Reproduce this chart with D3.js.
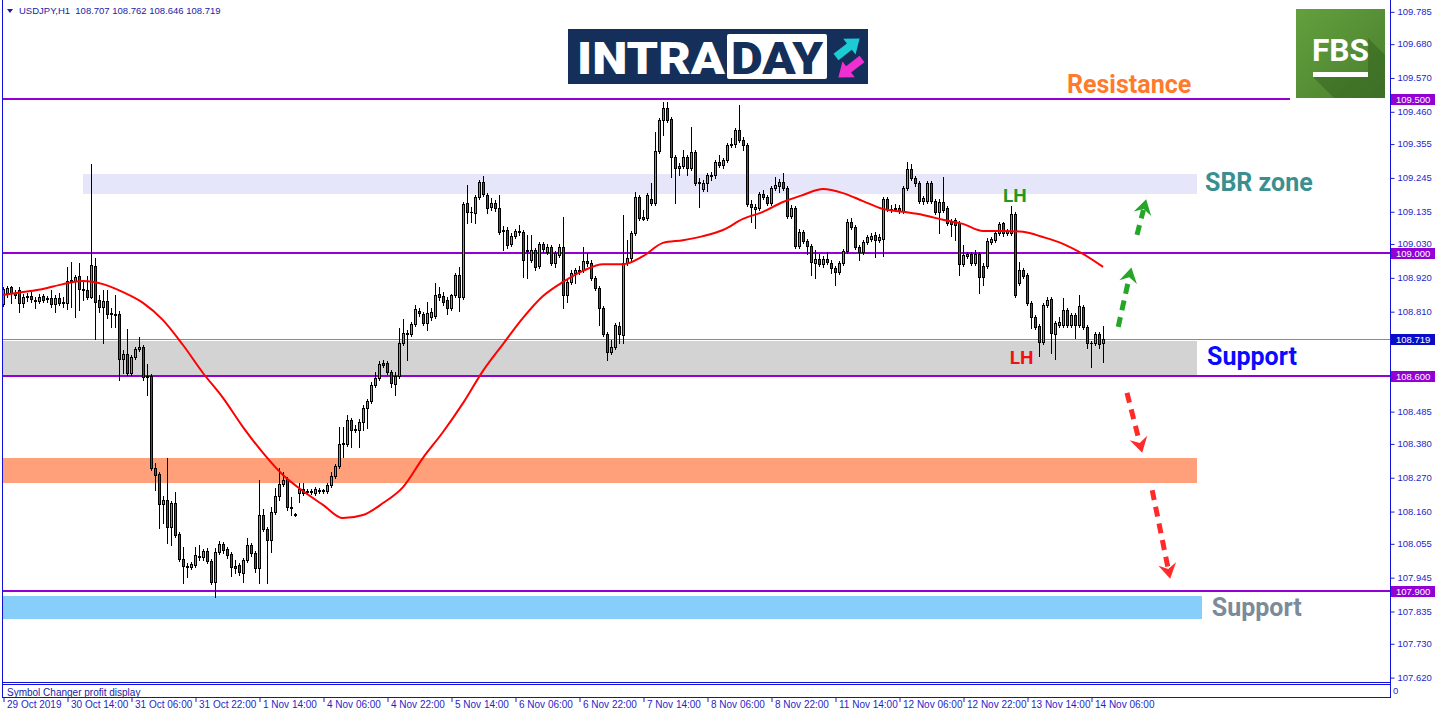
<!DOCTYPE html>
<html>
<head>
<meta charset="utf-8">
<script src="https://cdn.jsdelivr.net/npm/d3@7"></script>
<style>
  html, body { margin: 0; padding: 0; background: #fff; }
  svg { display: block; }
</style>
</head>
<body>
<svg id="chart" width="1436" height="716"></svg>
<script>
// USDJPY H1, 29 Oct - 14 Nov 2019, one row per bar: [open, high, low, close]
var ohlc = [
  [108.833,108.889,108.826,108.882],[108.869,108.892,108.856,108.885],[108.889,108.892,108.836,108.869],
  [108.869,108.879,108.853,108.862],[108.879,108.889,108.807,108.836],[108.836,108.866,108.823,108.856],
  [108.856,108.869,108.843,108.859],[108.859,108.872,108.840,108.849],[108.846,108.856,108.820,108.843],
  [108.843,108.866,108.836,108.856],[108.859,108.866,108.840,108.846],[108.849,108.859,108.840,108.853],
  [108.853,108.879,108.823,108.833],[108.833,108.862,108.807,108.853],[108.853,108.869,108.830,108.836],
  [108.840,108.856,108.823,108.836],[108.836,108.954,108.817,108.908],[108.911,108.970,108.823,108.908],
  [108.908,108.928,108.791,108.921],[108.924,108.967,108.814,108.882],[108.882,108.905,108.846,108.879],
  [108.879,108.924,108.849,108.856],[108.856,109.289,108.853,108.961],[108.957,108.983,108.720,108.840],
  [108.846,108.862,108.807,108.823],[108.823,108.879,108.707,108.843],[108.843,108.879,108.788,108.801],
  [108.804,108.820,108.758,108.801],[108.801,108.862,108.758,108.798],[108.801,108.811,108.586,108.655],
  [108.655,108.684,108.610,108.671],[108.671,108.752,108.603,108.610],[108.610,108.668,108.603,108.661],
  [108.661,108.694,108.655,108.687],[108.687,108.726,108.681,108.694],[108.694,108.700,108.586,108.596],
  [108.599,108.638,108.538,108.597],[108.599,108.606,108.294,108.300],[108.300,108.316,108.228,108.277],
  [108.281,108.287,108.105,108.183],[108.183,108.209,108.121,108.196],[108.196,108.333,108.056,108.108],
  [108.108,108.193,108.049,108.186],[108.186,108.222,108.076,108.082],[108.085,108.092,107.998,108.004],
  [108.004,108.043,107.926,107.981],[107.981,107.991,107.945,107.978],[107.978,107.994,107.971,107.988],
  [107.984,108.043,107.978,108.017],[108.014,108.049,108.001,108.012],[108.010,108.036,108.001,108.030],
  [108.030,108.040,107.991,107.998],[107.998,108.004,107.923,107.929],[107.929,108.040,107.880,108.027],
  [108.027,108.062,108.020,108.053],[108.053,108.059,108.023,108.033],[108.036,108.043,108.007,108.017],
  [108.020,108.027,107.949,107.978],[107.981,108.001,107.958,107.975],[107.984,107.991,107.952,107.962],
  [107.958,108.007,107.929,108.001],[108.001,108.072,107.994,108.049],[108.049,108.056,108.014,108.023],
  [108.023,108.030,107.962,107.975],[107.975,108.261,107.926,108.147],[108.147,108.167,108.095,108.102],
  [108.102,108.108,107.926,108.066],[108.066,108.173,108.027,108.157],[108.157,108.235,108.150,108.209],
  [108.209,108.300,108.196,108.248],[108.248,108.287,108.241,108.261],[108.264,108.271,108.163,108.173],
  [108.173,108.206,108.147,108.170],[108.150,108.154,108.144,108.147],[108.219,108.251,108.190,108.232],
  [108.232,108.251,108.212,108.219],[108.222,108.232,108.215,108.225],[108.225,108.232,108.215,108.222],
  [108.219,108.238,108.212,108.232],[108.228,108.235,108.219,108.226],[108.228,108.232,108.219,108.225],
  [108.225,108.251,108.219,108.245],[108.245,108.287,108.238,108.274],[108.274,108.313,108.268,108.307],
  [108.307,108.433,108.300,108.378],[108.378,108.433,108.336,108.381],[108.378,108.472,108.372,108.456],
  [108.456,108.463,108.368,108.424],[108.424,108.440,108.417,108.427],[108.424,108.459,108.368,108.450],
  [108.450,108.505,108.424,108.495],[108.495,108.524,108.430,108.518],[108.518,108.580,108.511,108.570],
  [108.570,108.612,108.564,108.593],[108.593,108.648,108.586,108.638],[108.642,108.651,108.629,108.636],
  [108.642,108.648,108.606,108.612],[108.612,108.619,108.564,108.577],[108.573,108.612,108.538,108.599],
  [108.599,108.755,108.593,108.707],[108.707,108.785,108.700,108.739],[108.739,108.749,108.651,108.737],
  [108.736,108.775,108.729,108.768],[108.768,108.830,108.762,108.817],[108.811,108.820,108.794,108.804],
  [108.801,108.807,108.765,108.771],[108.771,108.840,108.749,108.804],[108.791,108.820,108.781,108.807],
  [108.794,108.902,108.788,108.862],[108.866,108.889,108.846,108.856],[108.859,108.872,108.830,108.840],
  [108.846,108.856,108.801,108.820],[108.820,108.866,108.814,108.862],[108.862,108.934,108.856,108.928],
  [108.928,108.954,108.811,108.856],[108.856,109.165,108.849,109.159],[109.162,109.221,109.097,109.133],
  [109.133,109.149,109.100,109.131],[109.129,109.188,109.097,109.182],[109.182,109.237,109.175,109.230],
  [109.230,109.250,109.185,109.191],[109.188,109.195,109.129,109.146],[109.149,109.178,109.139,109.162],
  [109.162,109.172,109.136,109.146],[109.146,109.188,109.061,109.068],[109.071,109.087,109.009,109.074],
  [109.074,109.084,109.016,109.025],[109.029,109.064,109.022,109.055],[109.055,109.077,109.048,109.071],
  [109.071,109.090,109.058,109.068],[109.068,109.074,108.921,108.977],[109.006,109.058,108.918,109.009],
  [108.977,109.058,108.970,109.009],[109.009,109.016,108.944,108.954],[108.957,109.035,108.950,109.029],
  [109.029,109.035,109.003,109.012],[109.003,109.029,108.996,109.019],[109.019,109.025,108.961,108.967],
  [108.967,109.006,108.954,109.000],[108.993,109.029,108.987,109.019],[109.019,109.116,108.820,108.862],
  [108.862,108.911,108.840,108.905],[108.905,108.944,108.898,108.934],[108.934,108.950,108.902,108.944],
  [108.944,108.957,108.931,108.941],[108.944,109.019,108.937,108.974],[108.974,109.000,108.957,108.967],
  [108.967,108.977,108.911,108.918],[108.918,108.924,108.879,108.885],[108.885,108.892,108.765,108.820],
  [108.820,108.827,108.729,108.736],[108.736,108.742,108.651,108.677],[108.677,108.716,108.671,108.694],
  [108.694,108.772,108.687,108.765],[108.762,108.775,108.707,108.736],[108.733,109.123,108.707,108.967],
  [108.967,109.042,108.961,108.983],[108.983,109.071,108.977,109.064],[109.064,109.198,109.058,109.182],
  [109.182,109.188,109.107,109.113],[109.116,109.139,109.107,109.110],[109.113,109.195,109.107,109.188],
  [109.175,109.227,109.155,109.162],[109.162,109.393,109.155,109.331],[109.331,109.438,109.324,109.432],
  [109.432,109.490,109.383,109.471],[109.471,109.490,109.425,109.432],[109.435,109.441,109.246,109.311],
  [109.311,109.318,109.162,109.276],[109.276,109.292,109.253,109.282],[109.282,109.334,109.276,109.311],
  [109.311,109.318,109.253,109.276],[109.276,109.409,109.269,109.328],[109.328,109.334,109.220,109.227],
  [109.230,109.243,109.149,109.228],[109.207,109.237,109.201,109.227],[109.227,109.259,109.201,109.253],
  [109.253,109.263,109.237,109.251],[109.253,109.302,109.243,109.295],[109.295,109.318,109.279,109.286],
  [109.286,109.308,109.276,109.302],[109.302,109.357,109.295,109.350],[109.350,109.373,109.344,109.354],
  [109.354,109.406,109.344,109.399],[109.399,109.481,109.360,109.367],[109.367,109.376,109.334,109.350],
  [109.350,109.357,109.152,109.159],[109.159,109.172,109.100,109.149],[109.143,109.159,109.081,109.149],
  [109.146,109.198,109.139,109.191],[109.191,109.204,109.175,109.182],[109.182,109.188,109.155,109.162],
  [109.162,109.217,109.155,109.211],[109.211,109.246,109.204,109.220],[109.217,109.240,109.198,109.230],
  [109.230,109.259,109.204,109.211],[109.211,109.217,109.113,109.120],[109.120,109.155,109.113,109.146],
  [109.146,109.152,109.016,109.022],[109.022,109.077,109.016,109.068],[109.068,109.074,109.032,109.039],
  [109.039,109.045,108.996,109.022],[109.022,109.029,108.928,108.970],[108.967,109.009,108.918,108.980],
  [108.980,108.996,108.957,108.964],[108.964,108.990,108.954,108.980],[108.980,109.003,108.964,108.970],
  [108.967,108.977,108.934,108.950],[108.950,108.957,108.895,108.937],[108.937,108.974,108.931,108.967],
  [108.967,109.012,108.961,109.006],[109.006,109.110,109.000,109.100],[109.100,109.113,109.077,109.084],
  [109.084,109.090,109.012,109.019],[109.019,109.025,108.977,109.003],[109.003,109.042,108.996,109.035],
  [109.035,109.058,109.029,109.051],[109.045,109.064,109.039,109.055],[109.058,109.068,108.987,109.042],
  [109.042,109.061,109.035,109.051],[109.045,109.182,108.990,109.175],[109.175,109.182,109.136,109.143],
  [109.143,109.155,109.133,109.141],[109.143,109.159,109.136,109.146],[109.146,109.155,109.129,109.136],
  [109.136,109.217,109.129,109.211],[109.211,109.295,109.204,109.272],[109.272,109.289,109.237,109.243],
  [109.243,109.250,109.217,109.227],[109.227,109.233,109.162,109.168],[109.168,109.185,109.159,109.178],
  [109.168,109.233,109.162,109.227],[109.227,109.233,109.162,109.168],[109.168,109.175,109.126,109.133],
  [109.133,109.175,109.064,109.165],[109.165,109.246,109.133,109.139],[109.146,109.152,109.090,109.097],
  [109.103,109.110,109.055,109.094],[109.107,109.113,109.042,109.090],[109.097,109.103,108.928,108.964],
  [108.964,109.025,108.957,108.993],[108.990,109.003,108.983,108.996],[108.996,109.003,108.961,108.967],
  [108.967,109.009,108.961,108.996],[108.996,109.003,108.869,108.921],[108.957,108.967,108.895,108.921],
  [108.957,109.048,108.950,109.039],[109.035,109.051,109.029,109.045],[109.042,109.071,109.035,109.064],
  [109.064,109.100,109.058,109.094],[109.097,109.100,109.055,109.064],[109.064,109.077,109.058,109.071],
  [109.064,109.152,109.058,109.126],[109.126,109.133,108.856,108.862],[108.902,108.970,108.895,108.944],
  [108.944,108.950,108.918,108.924],[108.928,108.934,108.830,108.836],[108.836,108.843,108.755,108.791],
  [108.791,108.798,108.752,108.758],[108.762,108.768,108.664,108.710],[108.710,108.836,108.703,108.830],
  [108.830,108.856,108.823,108.846],[108.849,108.856,108.674,108.739],[108.736,108.778,108.655,108.771],
  [108.765,108.791,108.758,108.775],[108.765,108.853,108.758,108.814],[108.814,108.820,108.758,108.765],
  [108.765,108.804,108.758,108.798],[108.798,108.804,108.723,108.765],[108.765,108.862,108.758,108.827],
  [108.823,108.830,108.752,108.758],[108.758,108.765,108.690,108.707],[108.707,108.713,108.629,108.705],
  [108.707,108.742,108.700,108.736],[108.736,108.742,108.690,108.703],[108.707,108.762,108.646,108.719]
]

// 50-period moving average, read every 5 bars
var maStep = 5
var maValues = [
  108.863, 108.872, 108.882, 108.898, 108.908, 108.898, 108.872, 108.837, 108.781, 108.700,
  108.609, 108.528, 108.433, 108.349, 108.277, 108.225, 108.180, 108.137, 108.147, 108.186,
  108.238, 108.333, 108.417, 108.511, 108.616, 108.703, 108.788, 108.859, 108.905, 108.941,
  108.963, 108.963, 108.989, 109.032, 109.041, 109.054, 109.074, 109.110, 109.133, 109.165,
  109.188, 109.207, 109.194, 109.168, 109.142, 109.133, 109.123, 109.107, 109.094, 109.071,
  109.071, 109.068, 109.051, 109.029, 108.996, 108.954
]

var priceTicks = [109.785, 109.680, 109.570, 109.460, 109.355, 109.245, 109.135, 109.030, 108.920,
  108.810, 108.705, 108.595, 108.485, 108.380, 108.270, 108.160, 108.055, 107.945, 107.835, 107.730, 107.620]
var levels = [109.500, 109.000, 108.600, 107.900]
var lastPrice = 108.719

var timeLabels = ['29 Oct 2019', '30 Oct 14:00', '31 Oct 06:00', '31 Oct 22:00', '1 Nov 14:00',
  '4 Nov 06:00', '4 Nov 22:00', '5 Nov 14:00', '6 Nov 06:00', '6 Nov 22:00', '7 Nov 14:00',
  '8 Nov 06:00', '8 Nov 22:00', '11 Nov 14:00', '12 Nov 06:00', '12 Nov 22:00', '13 Nov 14:00', '14 Nov 06:00']
var timeStep = 16

// zones in bar index / price units
var zones = [
  { from: 20, to: 298.5, lo: 109.192, hi: 109.256, color: '#e6e6fa' },
  { from: -1, to: 298.5, lo: 108.600, hi: 108.713, color: '#d3d3d3' },
  { from: -1, to: 298.5, lo: 108.250, hi: 108.332, color: '#ffa07a' },
  { from: -1, to: 299.8, lo: 107.809, hi: 107.884, color: '#87cefa' }
]

var notes = [
  { text: 'Resistance', bar: 266, price: 109.519, size: 25, color: '#ff7b2c' },
  { text: 'SBR zone', bar: 300.5, price: 109.201, size: 25, color: '#3b8f8f' },
  { text: 'Support', bar: 301, price: 108.635, size: 25, color: '#0a0aff' },
  { text: 'Support', bar: 302.2, price: 107.819, size: 25, color: '#7b8b99' },
  { text: 'LH', bar: 250, price: 109.165, size: 19, color: '#1f9a1f' },
  { text: 'LH', bar: 251.7, price: 108.638, size: 19, color: '#f01010' }
]

var arrows = [
  { x0: 278.8, y0: 108.759, x1: 282.1, y1: 108.952, color: '#26a626' },
  { x0: 283.5, y0: 109.058, x1: 285.8, y1: 109.174, color: '#26a626' },
  { x0: 281, y0: 108.544, x1: 284.8, y1: 108.350, color: '#ff2a2a' },
  { x0: 287.3, y0: 108.228, x1: 291.8, y1: 107.940, color: '#ff2a2a' }
]

var plotRight = 1390, plotBottom = 682
var axisColor = '#1f1fc8'
var uiFont = 'Liberation Sans, Arial, sans-serif'

var svg = d3.select('#chart')

var x = d3.scaleLinear().domain([0, 275]).range([3, 1103])
var y = d3.scaleLinear().domain([107.9, 109.5]).range([591, 99])
function py(v) { return Math.round(y(v)) }

svg.append('defs').append('clipPath').attr('id', 'plot')
  .append('rect').attr('x', 3).attr('y', 0).attr('width', plotRight - 3).attr('height', plotBottom)

var plot = svg.append('g').attr('clip-path', 'url(#plot)')

// zones
plot.selectAll('rect.zone').data(zones).enter().append('rect')
  .attr('class', 'zone')
  .attr('x', function(d) { return Math.round(x(d.from)) })
  .attr('y', function(d) { return py(d.hi) })
  .attr('width', function(d) { return Math.round(x(d.to) - x(d.from)) })
  .attr('height', function(d) { return py(d.lo) - py(d.hi) })
  .attr('fill', function(d) { return d.color })

// last price line
plot.append('line')
  .attr('x1', 3).attr('x2', plotRight)
  .attr('y1', py(lastPrice) + 0.5).attr('y2', py(lastPrice) + 0.5)
  .attr('stroke', '#8c8c8c').attr('stroke-width', 1)

// horizontal levels (resistance line stops short of the axis)
plot.selectAll('line.level').data(levels).enter().append('line')
  .attr('class', 'level')
  .attr('x1', 3)
  .attr('x2', function(d, i) { return i === 0 ? Math.round(x(321.7)) : plotRight })
  .attr('y1', function(d) { return py(d) })
  .attr('y2', function(d) { return py(d) })
  .attr('stroke', '#9400d3').attr('stroke-width', 2)

// candles
var candles = plot.append('g').attr('shape-rendering', 'crispEdges')
ohlc.forEach(function(d, i) {
  var cx = Math.round(x(i))
  var o = d[0], h = d[1], l = d[2], c = d[3]
  candles.append('line')
    .attr('x1', cx + 0.5).attr('x2', cx + 0.5)
    .attr('y1', py(h)).attr('y2', py(l) + 1)
    .attr('stroke', '#000')
  var top = py(Math.max(o, c)), bot = py(Math.min(o, c))
  if (bot - top < 1) {
    candles.append('line')
      .attr('x1', cx - 1).attr('x2', cx + 2)
      .attr('y1', top + 0.5).attr('y2', top + 0.5)
      .attr('stroke', '#000')
  } else {
    candles.append('rect')
      .attr('x', cx - 0.5).attr('y', top + 0.5)
      .attr('width', 2).attr('height', bot - top)
      .attr('fill', c >= o ? '#2fd02f' : '#e81414')
      .attr('stroke', '#000').attr('stroke-width', 1)
  }
})

// moving average
var line = d3.line()
  .x(function(d, i) { return x(Math.min(i * maStep, 275)) })
  .y(function(d) { return y(d) })
  .curve(d3.curveMonotoneX)
plot.append('path')
  .datum(maValues)
  .attr('d', line)
  .attr('fill', 'none')
  .attr('stroke', '#ff0000')
  .attr('stroke-width', 2)

// annotation texts
plot.selectAll('text.note').data(notes).enter().append('text')
  .attr('class', 'note')
  .attr('x', function(d) { return x(d.bar) })
  .attr('y', function(d) { return y(d.price) })
  .attr('font-family', 'Roboto, sans-serif')
  .attr('font-weight', 700)
  .attr('font-size', function(d) { return d.size })
  .attr('fill', function(d) { return d.color })
  .text(function(d) { return d.text })

// dashed arrows
arrows.forEach(function(a) {
  var x0 = x(a.x0), y0 = y(a.y0), x1 = x(a.x1), y1 = y(a.y1)
  var ang = Math.atan2(y1 - y0, x1 - x0)
  var len = Math.sqrt((x1 - x0) * (x1 - x0) + (y1 - y0) * (y1 - y0))
  var g = plot.append('g')
    .attr('transform', 'translate(' + x0 + ',' + y0 + ') rotate(' + (ang * 180 / Math.PI) + ')')
  g.append('line')
    .attr('x1', 0).attr('y1', 0).attr('x2', len - 11).attr('y2', 0)
    .attr('stroke', a.color).attr('stroke-width', 5)
    .attr('stroke-dasharray', '10,7')
  g.append('path')
    .attr('d', 'M' + len + ',0 L' + (len - 15) + ',-9 L' + (len - 10) + ',0 L' + (len - 15) + ',9 Z')
    .attr('fill', a.color)
})

// INTRADAY logo
var logo = svg.append('g')
logo.append('rect').attr('x', 568).attr('y', 29).attr('width', 300).attr('height', 55).attr('fill', '#14305a')
logo.append('text')
  .attr('x', 577).attr('y', 74)
  .attr('font-family', 'Roboto, sans-serif').attr('font-weight', 900).attr('font-size', 45)
  .attr('textLength', 148).attr('lengthAdjust', 'spacingAndGlyphs')
  .attr('fill', '#fff').text('INTRA')
logo.append('rect').attr('x', 727).attr('y', 34).attr('width', 100).attr('height', 45).attr('rx', 2).attr('fill', '#fff')
logo.append('text')
  .attr('x', 731).attr('y', 74)
  .attr('font-family', 'Roboto, sans-serif').attr('font-weight', 900).attr('font-size', 45)
  .attr('textLength', 92).attr('lengthAdjust', 'spacingAndGlyphs')
  .attr('fill', '#14305a').text('DAY')
var blockArrow = 'M0,-4 L17,-4 L17,-10 L30,0 L17,10 L17,4 L0,4 Z'
logo.append('path').attr('d', blockArrow).attr('fill', '#1ccbd3')
  .attr('transform', 'translate(836,57) rotate(-38)')
logo.append('path').attr('d', blockArrow).attr('fill', '#f02fd2')
  .attr('transform', 'translate(862,59) rotate(142)')

// FBS logo
var grad = svg.select('defs').append('linearGradient')
  .attr('id', 'fbsGrad').attr('x1', 0).attr('y1', 0).attr('x2', 1).attr('y2', 1)
grad.append('stop').attr('offset', 0).attr('stop-color', '#63a03d')
grad.append('stop').attr('offset', 1).attr('stop-color', '#4a7f2e')
var fbs = svg.append('g')
fbs.append('rect').attr('x', 1296).attr('y', 9).attr('width', 89).attr('height', 89).attr('fill', 'url(#fbsGrad)')
fbs.append('path')
  .attr('d', 'M1313,77 L1368,77 L1368,38 L1385,55 L1385,98 L1334,98 Z')
  .attr('fill', '#2f5a1a').attr('opacity', 0.45)
fbs.append('text')
  .attr('x', 1312).attr('y', 61)
  .attr('font-family', 'Roboto, sans-serif').attr('font-weight', 700).attr('font-size', 32)
  .attr('textLength', 57).attr('lengthAdjust', 'spacingAndGlyphs')
  .attr('fill', '#fff').text('FBS')
fbs.append('rect').attr('x', 1313).attr('y', 72).attr('width', 55).attr('height', 5).attr('fill', '#fff')

// header
svg.append('path').attr('d', 'M7,9 L13,9 L10,13 Z').attr('fill', '#1a1a9a')
svg.append('text')
  .attr('x', 19).attr('y', 14)
  .attr('font-family', uiFont).attr('font-size', 9.5)
  .attr('fill', '#1a1aa6')
  .attr('xml:space', 'preserve')
  .text('USDJPY,H1  108.707 108.762 108.646 108.719')

// frames
var frame = svg.append('g').attr('shape-rendering', 'crispEdges').attr('stroke', '#1010d8').attr('fill', 'none')
frame.append('line').attr('x1', 2.5).attr('x2', 2.5).attr('y1', 0).attr('y2', 698)
frame.append('line').attr('x1', 2).attr('x2', plotRight + 1).attr('y1', plotBottom + 0.5).attr('y2', plotBottom + 0.5)
frame.append('rect').attr('x', 2.5).attr('y', 684.5).attr('width', plotRight - 2).attr('height', 13)
frame.append('line').attr('x1', plotRight + 0.5).attr('x2', plotRight + 0.5).attr('y1', 0).attr('y2', 698)

svg.append('text')
  .attr('x', 7).attr('y', 696)
  .attr('font-family', uiFont).attr('font-size', 10)
  .attr('fill', '#1a1aa6').text('Symbol Changer profit display')
svg.append('text')
  .attr('x', 1393).attr('y', 694)
  .attr('font-family', uiFont).attr('font-size', 9.5)
  .attr('fill', axisColor).text('0')

// price axis; labels hidden where a level box sits on them
var boxes = levels.map(function(v) { return { v: v, color: '#9400d3' } })
boxes.push({ v: lastPrice, color: '#0c0cc8' })
function underBox(t) {
  return boxes.some(function(b) { return Math.abs(y(b.v) - y(t)) < 7 })
}
var yAxis = d3.axisRight(y)
  .tickValues(priceTicks)
  .tickFormat(function(d) { return underBox(d) ? '' : d3.format('.3f')(d) })
  .tickSize(4)
  .tickPadding(3)
var ya = svg.append('g')
  .attr('transform', 'translate(' + (plotRight + 0.5) + ',0)')
  .call(yAxis)
ya.select('.domain').remove()
ya.selectAll('line').attr('stroke', axisColor).attr('transform', 'translate(0,0.5)')
ya.selectAll('text')
  .attr('fill', axisColor)
  .attr('font-family', uiFont)
  .attr('font-size', 9.5)

// level / last price boxes
var bx = svg.selectAll('g.box').data(boxes).enter().append('g').attr('class', 'box')
bx.append('rect')
  .attr('x', plotRight + 1)
  .attr('y', function(d) { return py(d.v) - 5 })
  .attr('width', 44).attr('height', 11)
  .attr('fill', function(d) { return d.color })
bx.append('text')
  .attr('x', plotRight + 6)
  .attr('y', function(d) { return py(d.v) + 3.5 })
  .attr('font-family', uiFont).attr('font-size', 9.5)
  .attr('fill', '#fff')
  .text(function(d) { return d3.format('.3f')(d.v) })

// time axis
var timeTicks = timeLabels.map(function(t, i) { return i * timeStep })
var xAxis = d3.axisBottom(x)
  .tickValues(timeTicks)
  .tickFormat(function(d, i) { return timeLabels[i] })
  .tickSize(4)
var xa = svg.append('g')
  .attr('transform', 'translate(0.5,698)')
  .call(xAxis)
xa.select('.domain').remove()
xa.selectAll('line').attr('stroke', axisColor)
xa.selectAll('text')
  .attr('text-anchor', 'start')
  .attr('x', 3).attr('dy', '0.55em').attr('y', 4)
  .attr('fill', axisColor)
  .attr('font-family', uiFont)
  .attr('font-size', 10)
</script>
</body>
</html>
